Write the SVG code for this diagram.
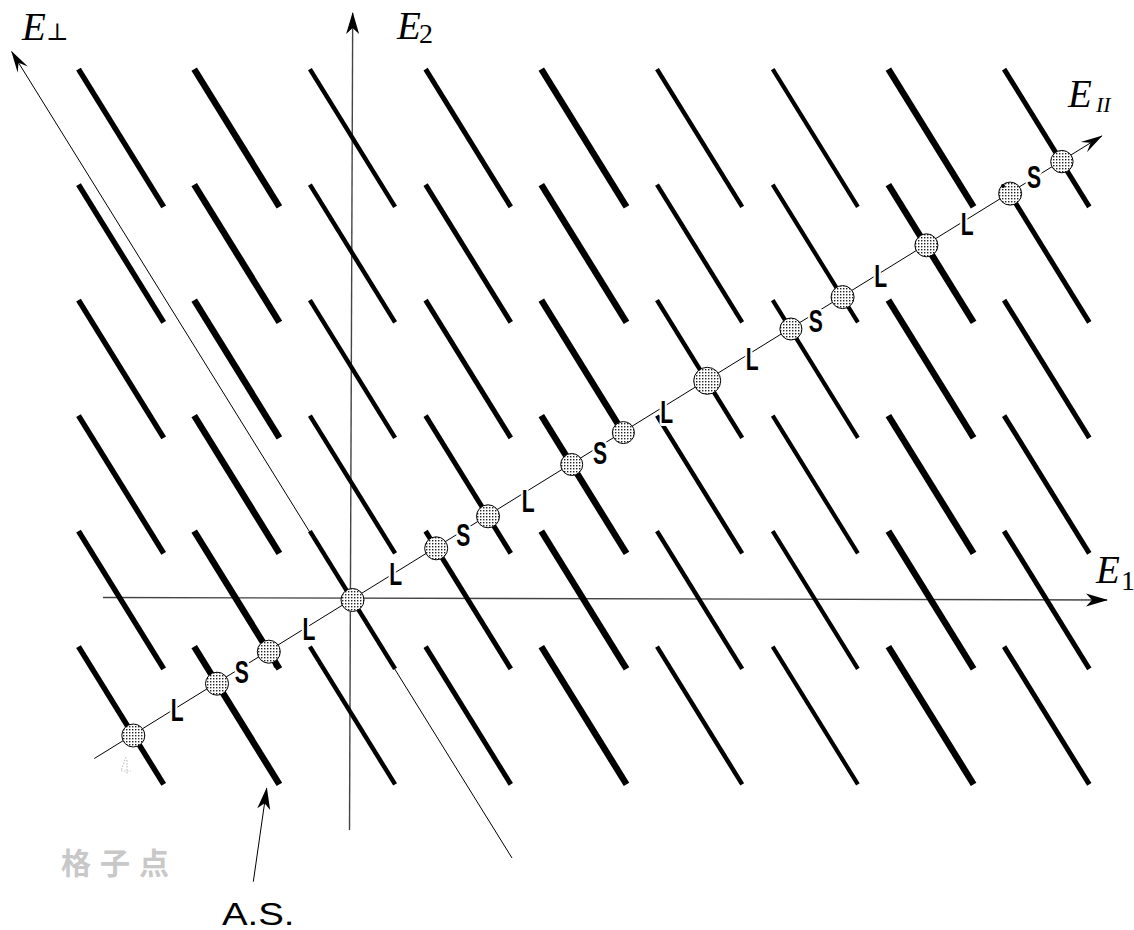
<svg xmlns="http://www.w3.org/2000/svg" xmlns:xlink="http://www.w3.org/1999/xlink" width="1134" height="930" viewBox="0 0 1134 930">
<style>
.ax{fill:none;stroke:#000;stroke-width:1}
.axg{fill:none;stroke:#444;stroke-width:1.4}
.pt{fill:url(#dots);stroke:#000;stroke-width:1}
.ls{font-family:"Liberation Sans",Arial,sans-serif;font-weight:bold;font-size:31px;text-anchor:middle;fill:#000;stroke:#fff;stroke-width:6;paint-order:stroke;stroke-linejoin:round}
.ax-lbl{font-family:"Liberation Serif","Times New Roman",serif;font-style:italic;font-size:39px;fill:#000}
.sub{font-family:"Liberation Serif","Times New Roman",serif;font-size:28px;fill:#000}
</style>
<defs>
<pattern id="dots" width="3" height="3" patternUnits="userSpaceOnUse">
<rect width="3" height="3" fill="#fff"/>
<rect width="1.4" height="1.4" fill="#222"/>
</pattern>
<line id="seg" x1="-42.6" y1="-68.9" x2="42.6" y2="68.9"/>
<marker id="ah" viewBox="0 -7 22 14" refX="21" refY="0" markerWidth="22" markerHeight="14" markerUnits="userSpaceOnUse" orient="auto">
<path d="M22,0 L0,-6.5 L6,0 L0,6.5 Z" fill="#000"/>
</marker>
<marker id="ah2" viewBox="0 -7 22 14" refX="21" refY="0" markerWidth="22" markerHeight="14" markerUnits="userSpaceOnUse" orient="auto">
<path d="M22,0 L0,-6 L8,0 L0,6 Z" fill="#000"/>
</marker>
</defs>
<rect width="1134" height="930" fill="#fff"/>

<g id="connectors">
<line id="axis-E1" class="axg" x1="103" y1="597.5" x2="1107" y2="600" marker-end="url(#ah)"/>
<line id="axis-E2" class="axg" x1="349.5" y1="830" x2="352.7" y2="13" marker-end="url(#ah)"/>
<line id="axis-Eperp" class="ax" x1="512" y1="858" x2="11.7" y2="51.7" marker-end="url(#ah2)"/>
</g>

<g id="atomic-surfaces" stroke="#000" stroke-linecap="butt">
<g id="col-m2" stroke-width="5.5">
<use href="#seg" x="121.1" y="138"/><use href="#seg" x="121.1" y="253.5"/><use href="#seg" x="121.1" y="369"/><use href="#seg" x="121.1" y="484.5"/><use href="#seg" x="121.1" y="600"/><use href="#seg" x="121.1" y="715.5"/>
</g>
<g id="col-m1" stroke-width="6.5">
<use href="#seg" x="236.8" y="138"/><use href="#seg" x="236.8" y="253.5"/><use href="#seg" x="236.8" y="369"/><use href="#seg" x="236.8" y="484.5"/><use href="#seg" x="236.8" y="600"/><use href="#seg" x="236.8" y="715.5"/>
</g>
<g id="col-0" stroke-width="4.5">
<use href="#seg" x="352.5" y="138"/><use href="#seg" x="352.5" y="253.5"/><use href="#seg" x="352.5" y="369"/><use href="#seg" x="352.5" y="484.5"/><use href="#seg" x="352.5" y="600"/><use href="#seg" x="352.5" y="715.5"/>
</g>
<g id="col-1" stroke-width="5">
<use href="#seg" x="468.2" y="138"/><use href="#seg" x="468.2" y="253.5"/><use href="#seg" x="468.2" y="369"/><use href="#seg" x="468.2" y="484.5"/><use href="#seg" x="468.2" y="600"/><use href="#seg" x="468.2" y="715.5"/>
</g>
<g id="col-2" stroke-width="6.5">
<use href="#seg" x="583.9" y="138"/><use href="#seg" x="583.9" y="253.5"/><use href="#seg" x="583.9" y="369"/><use href="#seg" x="583.9" y="484.5"/><use href="#seg" x="583.9" y="600"/><use href="#seg" x="583.9" y="715.5"/>
</g>
<g id="col-3" stroke-width="4.5">
<use href="#seg" x="699.6" y="138"/><use href="#seg" x="699.6" y="253.5"/><use href="#seg" x="699.6" y="369"/><use href="#seg" x="699.6" y="484.5"/><use href="#seg" x="699.6" y="600"/><use href="#seg" x="699.6" y="715.5"/>
</g>
<g id="col-4" stroke-width="4.2">
<use href="#seg" x="815.3" y="138"/><use href="#seg" x="815.3" y="253.5"/><use href="#seg" x="815.3" y="369"/><use href="#seg" x="815.3" y="484.5"/><use href="#seg" x="815.3" y="600"/><use href="#seg" x="815.3" y="715.5"/>
</g>
<g id="col-5" stroke-width="6.5">
<use href="#seg" x="931" y="138"/><use href="#seg" x="931" y="253.5"/><use href="#seg" x="931" y="369"/><use href="#seg" x="931" y="484.5"/><use href="#seg" x="931" y="600"/><use href="#seg" x="931" y="715.5"/>
</g>
<g id="col-6" stroke-width="5">
<use href="#seg" x="1046.7" y="138"/><use href="#seg" x="1046.7" y="253.5"/><use href="#seg" x="1046.7" y="369"/><use href="#seg" x="1046.7" y="484.5"/><use href="#seg" x="1046.7" y="600"/><use href="#seg" x="1046.7" y="715.5"/>
</g>
</g>

<g id="connectors-2">
<line id="axis-Epar" class="ax" x1="94.3" y1="758.5" x2="1101.7" y2="136" marker-end="url(#ah2)"/>
<line id="arrow-AS" class="ax" x1="253.3" y1="881.7" x2="266.7" y2="788.3" marker-end="url(#ah)"/>
</g>

<g id="points">
<g id="p-m3"><circle class="pt" cx="133.3" cy="735.5" r="11.5"/></g>
<g id="p-m2"><circle class="pt" cx="217" cy="683.7" r="11.5"/></g>
<g id="p-m1"><circle class="pt" cx="268.8" cy="651.7" r="11.5"/></g>
<g id="p-0"><circle class="pt" cx="352.5" cy="600" r="11.5"/></g>
<g id="p-1"><circle class="pt" cx="436.2" cy="548.3" r="11.5"/></g>
<g id="p-2"><circle class="pt" cx="488" cy="516.3" r="11.5"/></g>
<g id="p-3"><circle class="pt" cx="571.7" cy="464.5" r="11"/></g>
<g id="p-4"><circle class="pt" cx="623.4" cy="432.6" r="11"/></g>
<g id="p-5"><circle class="pt" cx="707.2" cy="380.8" r="13.5"/></g>
<g id="p-6"><circle class="pt" cx="790.9" cy="329" r="11"/></g>
<g id="p-7"><circle class="pt" cx="842.6" cy="297.1" r="11.5"/></g>
<g id="p-8"><circle class="pt" cx="926.4" cy="245.3" r="11.5"/></g>
<g id="p-9"><circle class="pt" cx="1010.1" cy="193.6" r="11.5"/></g>
<g id="p-10"><circle class="pt" cx="1061.9" cy="161.6" r="11.2"/></g>
<circle cx="276" cy="665.5" r="2.5" fill="#000"/>
<circle cx="1003" cy="186" r="2" fill="#000"/>
</g>

<g id="tile-labels">
<text class="ls" transform="translate(177.3,710) scale(0.68,1)" y="11">L</text>
<text class="ls" transform="translate(241.7,672.3) scale(0.68,1)" y="11">S</text>
<text class="ls" transform="translate(309,629.3) scale(0.68,1)" y="11">L</text>
<text class="ls" transform="translate(395.7,574) scale(0.68,1)" y="11">L</text>
<text class="ls" transform="translate(463.3,535.3) scale(0.68,1)" y="11">S</text>
<text class="ls" transform="translate(528.3,500.7) scale(0.68,1)" y="11">L</text>
<text class="ls" transform="translate(600,452.5) scale(0.68,1)" y="11">S</text>
<text class="ls" transform="translate(666.7,412.3) scale(0.68,1)" y="11">L</text>
<text class="ls" transform="translate(752.3,359) scale(0.68,1)" y="11">L</text>
<text class="ls" transform="translate(815.7,320.7) scale(0.68,1)" y="11">S</text>
<text class="ls" transform="translate(880.7,275.7) scale(0.68,1)" y="11">L</text>
<text class="ls" transform="translate(967.3,224) scale(0.68,1)" y="11">L</text>
<text class="ls" transform="translate(1034,177) scale(0.68,1)" y="11">S</text>
</g>

<g id="axis-labels">
<g id="lbl-Eperp"><text class="ax-lbl" x="22" y="39.5">E</text><text x="46" y="40" font-family="'DejaVu Serif',serif" font-size="24px">⊥</text></g>
<g id="lbl-E2"><text class="ax-lbl" x="397" y="38.5">E</text><text class="sub" x="419" y="43">2</text></g>
<g id="lbl-E1"><text class="ax-lbl" x="1096" y="583">E</text><text class="sub" x="1121" y="590" font-size="24px">1</text></g>
<g id="lbl-Epar"><text class="ax-lbl" x="1068" y="106.7" font-size="42px">E</text><text x="1096" y="111.7" font-family="'Liberation Serif',serif" font-style="italic" font-size="22px">II</text></g>
</g>

<g id="lbl-AS"><text transform="translate(222,925) scale(1.2,1)" font-family="'Liberation Sans',Arial,sans-serif" font-size="32px" fill="#000">A.S.</text></g>
<g id="lbl-lattice"><text x="61" y="874" font-family="'Noto Sans CJK JP','Noto Sans CJK SC',sans-serif" font-size="30px" font-weight="bold" letter-spacing="9" fill="#c8c8c8">格子点</text>
<path d="M126,757 L121,771 L131,771 M127,760 L127,775" fill="none" stroke="#c4c4c4" stroke-width="1.2" stroke-dasharray="1.5 1.5"/></g>
</svg>
